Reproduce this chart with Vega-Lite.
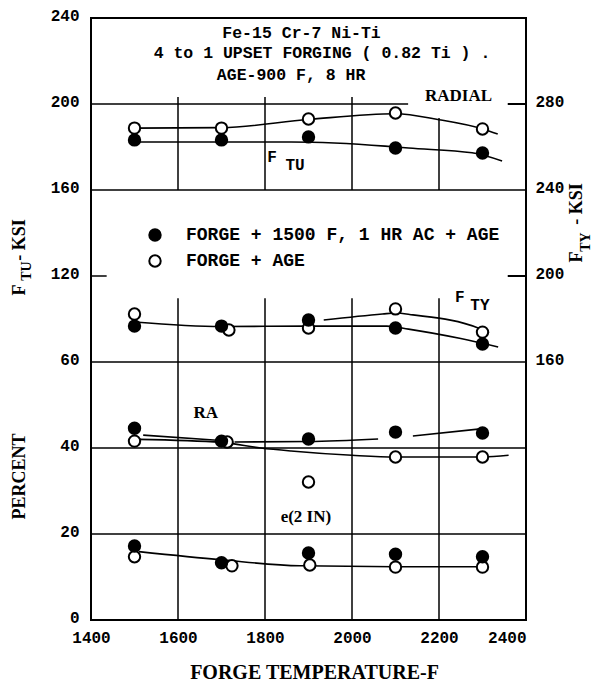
{
  "$schema": "https://vega.github.io/schema/vega-lite/v6.json",
  "width": 435,
  "height": 602,
  "autosize": {"type": "none"},
  "padding": {"left": 91, "top": 18, "right": 66, "bottom": 61},
  "background": "white",
  "config": {
    "view": {"stroke": "black", "strokeWidth": 2},
    "axis": {"domain": false, "grid": false, "ticks": false, "labelFont": "Liberation Mono", "labelFontSize": 16, "labelFontWeight": "bold", "labelColor": "black", "titleFont": "Liberation Serif", "titleFontWeight": "bold", "titleColor": "black"},
    "legend": {"labelFont": "Liberation Mono", "labelFontSize": 18, "labelFontWeight": "bold", "labelColor": "black", "labelLimit": 600, "symbolSize": 130, "symbolStrokeColor": "black", "symbolStrokeWidth": 2, "symbolType": "circle", "symbolOpacity": 1, "labelOffset": 22, "rowPadding": 6, "padding": 0},
    "text": {"color": "black"}
  },
  "datasets": {
    "ftu_rules": [
      {"T": 1600, "T2": 1600, "v": 160, "v2": 203.3},
      {"T": 1800, "T2": 1800, "v": 160, "v2": 203.3},
      {"T": 2000, "T2": 2000, "v": 160, "v2": 203.3},
      {"T": 2200, "T2": 2200, "v": 160, "v2": 193.5},
      {"T": 1400, "T2": 2129, "v": 200, "v2": 200},
      {"T": 1400, "T2": 2400, "v": 160, "v2": 160},
      {"T": 1400, "T2": 1436, "v": 120, "v2": 120}
    ],
    "fty_rules": [
      {"T": 2358, "T2": 2400, "v": 280, "v2": 280},
      {"T": 2358, "T2": 2400, "v": 200, "v2": 200}
    ],
    "pct_rules": [
      {"T": 1600, "T2": 1600, "v": 0, "v2": 74.8},
      {"T": 1800, "T2": 1800, "v": 0, "v2": 74.8},
      {"T": 2000, "T2": 2000, "v": 0, "v2": 74.8},
      {"T": 2200, "T2": 2200, "v": 0, "v2": 74.8},
      {"T": 1400, "T2": 2400, "v": 60, "v2": 60},
      {"T": 1400, "T2": 2400, "v": 40, "v2": 40},
      {"T": 1400, "T2": 2400, "v": 20, "v2": 20}
    ],
    "ftu_fits": [
      {"s": "FTU open", "T": 1500, "v": 188.8},
      {"s": "FTU open", "T": 1700, "v": 189.0},
      {"s": "FTU open", "T": 1900, "v": 192.8},
      {"s": "FTU open", "T": 2100, "v": 195.5},
      {"s": "FTU open", "T": 2200, "v": 192.7},
      {"s": "FTU open", "T": 2300, "v": 188.4},
      {"s": "FTU open", "T": 2335, "v": 186.0},
      {"s": "FTU filled", "T": 1500, "v": 182.3},
      {"s": "FTU filled", "T": 1700, "v": 182.3},
      {"s": "FTU filled", "T": 1860, "v": 182.3},
      {"s": "FTU filled", "T": 2076, "v": 180.4},
      {"s": "FTU filled", "T": 2130, "v": 179.5},
      {"s": "FTU filled", "T": 2276, "v": 177.3},
      {"s": "FTU filled", "T": 2345, "v": 173.5}
    ],
    "fty_fits": [
      {"s": "FTY filled", "T": 1500, "v": 178.6},
      {"s": "FTY filled", "T": 1700, "v": 176.5},
      {"s": "FTY filled", "T": 1900, "v": 176.7},
      {"s": "FTY filled", "T": 2080, "v": 176.7},
      {"s": "FTY filled", "T": 2130, "v": 175.3},
      {"s": "FTY filled", "T": 2250, "v": 170.9},
      {"s": "FTY filled", "T": 2336, "v": 167.0},
      {"s": "FTY open", "T": 1935, "v": 179.5},
      {"s": "FTY open", "T": 2070, "v": 182.3},
      {"s": "FTY open", "T": 2100, "v": 182.8},
      {"s": "FTY open", "T": 2140, "v": 181.9},
      {"s": "FTY open", "T": 2290, "v": 175.8},
      {"s": "FTY open", "T": 2315, "v": 173.5}
    ],
    "pct_fits": [
      {"s": "RA filled a", "T": 1520, "v": 43.0},
      {"s": "RA filled a", "T": 1690, "v": 41.8},
      {"s": "RA filled b", "T": 1730, "v": 41.4},
      {"s": "RA filled b", "T": 1900, "v": 41.5},
      {"s": "RA filled b", "T": 2060, "v": 42.1},
      {"s": "RA filled c", "T": 2140, "v": 42.8},
      {"s": "RA filled c", "T": 2290, "v": 44.4},
      {"s": "RA open", "T": 1510, "v": 42.0},
      {"s": "RA open", "T": 1700, "v": 41.3},
      {"s": "RA open", "T": 1790, "v": 40.0},
      {"s": "RA open", "T": 1860, "v": 39.3},
      {"s": "RA open", "T": 2000, "v": 38.3},
      {"s": "RA open", "T": 2100, "v": 37.9},
      {"s": "RA open", "T": 2300, "v": 37.9},
      {"s": "RA open", "T": 2360, "v": 38.3},
      {"s": "EL", "T": 1510, "v": 15.9},
      {"s": "EL", "T": 1700, "v": 14.0},
      {"s": "EL", "T": 1880, "v": 12.6},
      {"s": "EL", "T": 2100, "v": 12.4},
      {"s": "EL", "T": 2300, "v": 12.4}
    ],
    "ftu_points": [
      {"prop": "FTU", "T": 1500, "v": 188.8, "treat": "FORGE + AGE"},
      {"prop": "FTU", "T": 1700, "v": 188.8, "treat": "FORGE + AGE"},
      {"prop": "FTU", "T": 1900, "v": 193.0, "treat": "FORGE + AGE"},
      {"prop": "FTU", "T": 2100, "v": 195.8, "treat": "FORGE + AGE"},
      {"prop": "FTU", "T": 2300, "v": 188.4, "treat": "FORGE + AGE"},
      {"prop": "FTU", "T": 1500, "v": 183.3, "treat": "FORGE + 1500 F, 1 HR AC + AGE"},
      {"prop": "FTU", "T": 1700, "v": 183.3, "treat": "FORGE + 1500 F, 1 HR AC + AGE"},
      {"prop": "FTU", "T": 1900, "v": 184.7, "treat": "FORGE + 1500 F, 1 HR AC + AGE"},
      {"prop": "FTU", "T": 2100, "v": 179.5, "treat": "FORGE + 1500 F, 1 HR AC + AGE"},
      {"prop": "FTU", "T": 2300, "v": 177.2, "treat": "FORGE + 1500 F, 1 HR AC + AGE"}
    ],
    "fty_points": [
      {"prop": "FTY", "T": 1500, "v": 182.3, "treat": "FORGE + AGE"},
      {"prop": "FTY", "T": 1717, "v": 174.9, "treat": "FORGE + AGE"},
      {"prop": "FTY", "T": 1900, "v": 175.8, "treat": "FORGE + AGE"},
      {"prop": "FTY", "T": 2100, "v": 184.7, "treat": "FORGE + AGE"},
      {"prop": "FTY", "T": 2300, "v": 173.9, "treat": "FORGE + AGE"},
      {"prop": "FTY", "T": 1500, "v": 176.7, "treat": "FORGE + 1500 F, 1 HR AC + AGE"},
      {"prop": "FTY", "T": 1700, "v": 176.7, "treat": "FORGE + 1500 F, 1 HR AC + AGE"},
      {"prop": "FTY", "T": 1900, "v": 179.5, "treat": "FORGE + 1500 F, 1 HR AC + AGE"},
      {"prop": "FTY", "T": 2100, "v": 175.8, "treat": "FORGE + 1500 F, 1 HR AC + AGE"},
      {"prop": "FTY", "T": 2300, "v": 168.4, "treat": "FORGE + 1500 F, 1 HR AC + AGE"}
    ],
    "pct_points": [
      {"prop": "RA", "T": 1500, "v": 41.6, "treat": "FORGE + AGE"},
      {"prop": "RA", "T": 1713, "v": 41.4, "treat": "FORGE + AGE"},
      {"prop": "RA", "T": 1900, "v": 32.1, "treat": "FORGE + AGE"},
      {"prop": "RA", "T": 2100, "v": 37.9, "treat": "FORGE + AGE"},
      {"prop": "RA", "T": 2300, "v": 37.9, "treat": "FORGE + AGE"},
      {"prop": "EL", "T": 1500, "v": 14.7, "treat": "FORGE + AGE"},
      {"prop": "EL", "T": 1724, "v": 12.6, "treat": "FORGE + AGE"},
      {"prop": "EL", "T": 1903, "v": 12.8, "treat": "FORGE + AGE"},
      {"prop": "EL", "T": 2100, "v": 12.3, "treat": "FORGE + AGE"},
      {"prop": "EL", "T": 2300, "v": 12.3, "treat": "FORGE + AGE"},
      {"prop": "RA", "T": 1500, "v": 44.6, "treat": "FORGE + 1500 F, 1 HR AC + AGE"},
      {"prop": "RA", "T": 1700, "v": 41.6, "treat": "FORGE + 1500 F, 1 HR AC + AGE"},
      {"prop": "RA", "T": 1900, "v": 42.1, "treat": "FORGE + 1500 F, 1 HR AC + AGE"},
      {"prop": "RA", "T": 2100, "v": 43.7, "treat": "FORGE + 1500 F, 1 HR AC + AGE"},
      {"prop": "RA", "T": 2300, "v": 43.5, "treat": "FORGE + 1500 F, 1 HR AC + AGE"},
      {"prop": "EL", "T": 1500, "v": 17.2, "treat": "FORGE + 1500 F, 1 HR AC + AGE"},
      {"prop": "EL", "T": 1700, "v": 13.3, "treat": "FORGE + 1500 F, 1 HR AC + AGE"},
      {"prop": "EL", "T": 1900, "v": 15.6, "treat": "FORGE + 1500 F, 1 HR AC + AGE"},
      {"prop": "EL", "T": 2100, "v": 15.3, "treat": "FORGE + 1500 F, 1 HR AC + AGE"},
      {"prop": "EL", "T": 2300, "v": 14.7, "treat": "FORGE + 1500 F, 1 HR AC + AGE"}
    ],
    "ftu_notes": [
      {"T": 1884, "v": 233.0, "label": "Fe-15 Cr-7 Ni-Ti", "role": "title"},
      {"T": 1931, "v": 223.7, "label": "4 to 1 UPSET FORGING ( 0.82 Ti ) .", "role": "title"},
      {"T": 1860, "v": 213.5, "label": "AGE-900 F, 8 HR", "role": "title"},
      {"T": 2245, "v": 203.5, "label": "RADIAL", "role": "label"},
      {"T": 1816, "v": 175.3, "label": "F", "role": "sym"},
      {"T": 1869, "v": 171.6, "label": "TU", "role": "sym"},
      {"T": 1237, "v": 113.5, "label": "F", "role": "axis"},
      {"T": 1253, "v": 122.3, "label": "TU", "role": "axissub"},
      {"T": 1237, "v": 136.7, "label": "- KSI", "role": "axis"}
    ],
    "fty_notes": [
      {"T": 2248, "v": 190.2, "label": "F", "role": "sym"},
      {"T": 2294, "v": 186.5, "label": "TY", "role": "sym"},
      {"T": 2517, "v": 208.8, "label": "F", "role": "axis"},
      {"T": 2538, "v": 215.8, "label": "TY", "role": "axissub"},
      {"T": 2517, "v": 233.5, "label": "- KSI", "role": "axis"}
    ],
    "pct_notes": [
      {"T": 1664, "v": 48.1, "label": "RA"},
      {"T": 1894, "v": 24.0, "label": "e(2 IN)"}
    ]
  },
  "encoding": {
    "x": {
      "field": "T", "type": "quantitative",
      "scale": {"domain": [1400, 2400], "nice": false, "zero": false},
      "axis": {
        "values": [1400, 1600, 1800, 2000, 2200, 2400], "format": "d",
        "labelPadding": 17, "labelBaseline": "middle", "labelFlush": false,
        "labelAlign": {"condition": {"test": "datum.value == 2400", "value": "right"}, "value": "center"},
        "title": "FORGE TEMPERATURE-F", "titleFontSize": 20,
        "titleX": 223, "titleY": 52, "titleAlign": "center", "titleBaseline": "middle"
      }
    }
  },
  "layer": [
    {
      "encoding": {
        "y": {
          "field": "v", "type": "quantitative",
          "scale": {"domain": [0, 140], "nice": false, "zero": false},
          "axis": {"orient": "left", "values": [0, 20, 40, 60], "labelPadding": 12, "labelOffset": -3,
            "title": "PERCENT", "titleFontSize": 18, "titleAngle": 270, "titleX": -72, "titleY": 458, "titleAlign": "center", "titleBaseline": "middle"}
        }
      },
      "layer": [
        {"data": {"name": "pct_rules"}, "mark": {"type": "rule", "color": "black", "strokeWidth": 1.5}, "encoding": {"x2": {"field": "T2"}, "y2": {"field": "v2"}}},
        {"data": {"name": "pct_fits"}, "mark": {"type": "line", "color": "black", "strokeWidth": 1.6, "interpolate": "monotone"}, "encoding": {"detail": {"field": "s"}}},
        {"data": {"name": "pct_points"}, "mark": {"type": "point", "shape": "circle", "filled": true, "size": 130, "stroke": "black", "strokeWidth": 2, "opacity": 1},
          "encoding": {"fill": {"field": "treat", "type": "nominal", "scale": {"domain": ["FORGE + 1500 F, 1 HR AC + AGE", "FORGE + AGE"], "range": ["black", "white"]}, "legend": {"orient": "none", "legendX": 55, "legendY": 208, "title": null}}}},
        {"data": {"name": "pct_notes"}, "mark": {"type": "text", "font": "Liberation Serif", "fontSize": 17, "fontWeight": "bold", "align": "center", "baseline": "middle"}, "encoding": {"text": {"field": "label"}}}
      ]
    },
    {
      "encoding": {
        "y": {
          "field": "v", "type": "quantitative",
          "scale": {"domain": [-40, 240], "nice": false, "zero": false},
          "axis": {"orient": "left", "values": [120, 160, 200, 240], "labelPadding": 12, "labelOffset": -3, "title": null}
        }
      },
      "layer": [
        {"data": {"name": "ftu_rules"}, "mark": {"type": "rule", "color": "black", "strokeWidth": 1.5}, "encoding": {"x2": {"field": "T2"}, "y2": {"field": "v2"}}},
        {"data": {"name": "ftu_fits"}, "mark": {"type": "line", "color": "black", "strokeWidth": 1.6, "interpolate": "monotone"}, "encoding": {"detail": {"field": "s"}}},
        {"data": {"name": "ftu_points"}, "mark": {"type": "point", "shape": "circle", "filled": true, "size": 130, "stroke": "black", "strokeWidth": 2, "opacity": 1},
          "encoding": {"fill": {"field": "treat", "type": "nominal", "scale": {"domain": ["FORGE + 1500 F, 1 HR AC + AGE", "FORGE + AGE"], "range": ["black", "white"]}, "legend": {"orient": "none", "legendX": 55, "legendY": 208, "title": null}}}},
        {"data": {"name": "ftu_notes"}, "transform": [{"filter": "datum.role == 'title'"}], "mark": {"type": "text", "font": "Liberation Mono", "fontSize": 16.5, "fontWeight": "bold", "align": "center", "baseline": "middle"}, "encoding": {"text": {"field": "label"}}},
        {"data": {"name": "ftu_notes"}, "transform": [{"filter": "datum.role == 'label'"}], "mark": {"type": "text", "font": "Liberation Serif", "fontSize": 17, "fontWeight": "bold", "align": "center", "baseline": "middle"}, "encoding": {"text": {"field": "label"}}},
        {"data": {"name": "ftu_notes"}, "transform": [{"filter": "datum.role == 'sym'"}], "mark": {"type": "text", "font": "Liberation Mono", "fontSize": 16, "fontWeight": "bold", "align": "center", "baseline": "middle"}, "encoding": {"text": {"field": "label"}}},
        {"data": {"name": "ftu_notes"}, "transform": [{"filter": "datum.role == 'axis'"}], "mark": {"type": "text", "font": "Liberation Serif", "fontSize": 18, "fontWeight": "bold", "align": "center", "baseline": "middle", "angle": 270}, "encoding": {"text": {"field": "label"}}},
        {"data": {"name": "ftu_notes"}, "transform": [{"filter": "datum.role == 'axissub'"}], "mark": {"type": "text", "font": "Liberation Serif", "fontSize": 14, "fontWeight": "bold", "align": "center", "baseline": "middle", "angle": 270}, "encoding": {"text": {"field": "label"}}}
      ]
    },
    {
      "encoding": {
        "y": {
          "field": "v", "type": "quantitative",
          "scale": {"domain": [40, 320], "nice": false, "zero": false},
          "axis": {"orient": "right", "values": [160, 200, 240, 280], "labelPadding": 9, "labelOffset": -3, "title": null}
        }
      },
      "layer": [
        {"data": {"name": "fty_rules"}, "mark": {"type": "rule", "color": "black", "strokeWidth": 2}, "encoding": {"x2": {"field": "T2"}, "y2": {"field": "v2"}}},
        {"data": {"name": "fty_fits"}, "mark": {"type": "line", "color": "black", "strokeWidth": 1.6, "interpolate": "monotone"}, "encoding": {"detail": {"field": "s"}}},
        {"data": {"name": "fty_points"}, "mark": {"type": "point", "shape": "circle", "filled": true, "size": 130, "stroke": "black", "strokeWidth": 2, "opacity": 1},
          "encoding": {"fill": {"field": "treat", "type": "nominal", "scale": {"domain": ["FORGE + 1500 F, 1 HR AC + AGE", "FORGE + AGE"], "range": ["black", "white"]}, "legend": {"orient": "none", "legendX": 55, "legendY": 208, "title": null}}}},
        {"data": {"name": "fty_notes"}, "transform": [{"filter": "datum.role == 'sym'"}], "mark": {"type": "text", "font": "Liberation Mono", "fontSize": 16, "fontWeight": "bold", "align": "center", "baseline": "middle"}, "encoding": {"text": {"field": "label"}}},
        {"data": {"name": "fty_notes"}, "transform": [{"filter": "datum.role == 'axis'"}], "mark": {"type": "text", "font": "Liberation Serif", "fontSize": 18, "fontWeight": "bold", "align": "center", "baseline": "middle", "angle": 270}, "encoding": {"text": {"field": "label"}}},
        {"data": {"name": "fty_notes"}, "transform": [{"filter": "datum.role == 'axissub'"}], "mark": {"type": "text", "font": "Liberation Serif", "fontSize": 14, "fontWeight": "bold", "align": "center", "baseline": "middle", "angle": 270}, "encoding": {"text": {"field": "label"}}}
      ]
    }
  ],
  "resolve": {"scale": {"y": "independent"}}
}
